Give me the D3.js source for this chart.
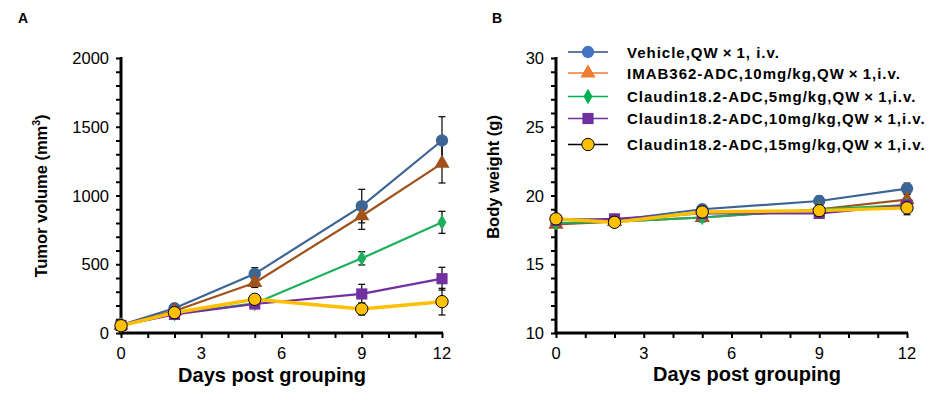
<!DOCTYPE html>
<html><head><meta charset="utf-8">
<script src="https://cdn.jsdelivr.net/npm/d3@7"></script>
<style>body{margin:0;background:#fff;}svg{display:block;font-family:Arial,"Liberation Sans",sans-serif;}</style>
</head><body><svg id="c" width="932" height="397"></svg>
<script>
const days = [0, 2, 5, 9, 12];
const seriesNames = ["Vehicle,QW\u2009\u00d7\u20091, i.v.", "IMAB362-ADC,10mg/kg,QW\u2009\u00d7\u20091,i.v.", "Claudin18.2-ADC,5mg/kg,QW\u2009\u00d7\u20091,i.v.", "Claudin18.2-ADC,10mg/kg,QW\u2009\u00d7\u20091,i.v.", "Claudin18.2-ADC,15mg/kg,QW\u2009\u00d7\u20091,i.v."];
const markerShapes = ["circle", "triangle", "diamond", "square", "circle"];
const plotColors = ["#3C6494", "#A0521A", "#1DB05C", "#7030A0", "#FFC000"];
const legendMarkerColors = ["#4472C4", "#ED7D31", "#00B050", "#7030A0", "#FFC000"];
const legendLineColors = ["#2F4E7A", "#ED7D31", "#00B050", "#7030A0", "#000000"];
// Tumor volume (mm3)
const tumorMean = [
  [58, 180, 430, 923, 1400],
  [55, 160, 366, 851, 1234],
  [55, 140, 215, 543, 805],
  [55, 135, 211, 284, 395],
  [53, 148, 245, 175, 228]
];
const tumorSem = [
  [8, 20, 45, 122, 173],
  [8, 18, 35, 97, 143],
  [8, 15, 25, 48, 80],
  [8, 15, 20, 70, 83],
  [8, 15, 20, 44, 97]
];
// Body weight (g)
const weightMean = [
  [18.3, 18.2, 19.0, 19.6, 20.5],
  [17.9, 18.1, 18.4, 19.0, 19.7],
  [18.0, 18.1, 18.4, 19.0, 19.3],
  [18.2, 18.3, 18.7, 18.7, 19.3],
  [18.3, 18.05, 18.8, 18.9, 19.1]
];
const weightSem = [
  [0.2, 0.3, 0.2, 0.35, 0.4],
  [0.2, 0.3, 0.3, 0.3, 0.4],
  [0.2, 0.3, 0.3, 0.3, 0.4],
  [0.2, 0.3, 0.3, 0.3, 0.4],
  [0.2, 0.3, 0.3, 0.3, 0.5]
];
const xTicks = [0, 3, 6, 9, 12];
const tumorTicks = [0, 500, 1000, 1500, 2000];
const weightTicks = [10, 15, 20, 25, 30];

const svg = d3.select("#c");

function symbolFor(shape, size) {
  const t = {circle: d3.symbolCircle, triangle: d3.symbolTriangle, diamond: d3.symbolDiamond, square: d3.symbolSquare}[shape];
  return d3.symbol().type(t).size(size)();
}
const symSize = {circle: 120, triangle: 100, diamond: 70, square: 125};

function panel(opt) {
  const g = svg.append("g");
  const x = d3.scaleLinear().domain([0, 12]).range([opt.x0, opt.x1]);
  const y = d3.scaleLinear().domain(opt.yDomain).range([opt.y0, opt.y1]);
  const yMinor = d3.range(opt.yDomain[0], opt.yDomain[1] + 1e-9, opt.yMinorStep);
  const xMinor = d3.range(0, 13, 1);
  const ax = g.append("g").attr("transform", `translate(0,${opt.y0})`)
    .call(d3.axisBottom(x).tickValues(xMinor).tickSize(5).tickFormat(""));
  ax.select(".domain").remove();
  ax.selectAll("line").attr("stroke", "#000").attr("stroke-width", 2);
  const ay = g.append("g").attr("transform", `translate(${opt.x0},0)`)
    .call(d3.axisLeft(y).tickValues(yMinor).tickSize(5).tickFormat(""));
  ay.select(".domain").remove();
  ay.selectAll("line").attr("stroke", "#000").attr("stroke-width", 2);
  g.selectAll(".xl").data(xTicks).join("text")
    .attr("x", d => x(d)).attr("y", opt.y0 + 26).attr("text-anchor", "middle")
    .attr("font-size", 16.5).attr("fill", "#000").text(d => d);
  g.selectAll(".yl").data(opt.yTicks).join("text")
    .attr("x", opt.x0 - 12).attr("y", d => y(d) + 6).attr("text-anchor", "end")
    .attr("font-size", 16.5).attr("fill", "#000").text(d => d);
  g.append("line").attr("x1", opt.x0).attr("x2", opt.x0).attr("y1", opt.y1 - 1).attr("y2", opt.y0 + 1.5)
    .attr("stroke", "#000").attr("stroke-width", 3);
  g.append("line").attr("x1", opt.x0 - 1.5).attr("x2", opt.x1 + 1).attr("y1", opt.y0).attr("y2", opt.y0)
    .attr("stroke", "#000").attr("stroke-width", 3);
  opt.mean.forEach((s, i) => {
    s.forEach((v, j) => {
      const e = opt.sem[i][j];
      const xx = x(days[j]);
      const eg = g.append("g").attr("stroke", "#000").attr("stroke-width", 1.2);
      eg.append("line").attr("x1", xx).attr("x2", xx).attr("y1", y(v - e)).attr("y2", y(v + e));
      eg.append("line").attr("x1", xx - 3.5).attr("x2", xx + 3.5).attr("y1", y(v - e)).attr("y2", y(v - e));
      eg.append("line").attr("x1", xx - 3.5).attr("x2", xx + 3.5).attr("y1", y(v + e)).attr("y2", y(v + e));
    });
  });
  const line = d3.line().x((d, j) => x(days[j])).y(d => y(d));
  opt.mean.forEach((s, i) => {
    g.append("path").attr("d", line(s)).attr("fill", "none").attr("stroke", plotColors[i])
      .attr("stroke-width", i === 4 ? 3.5 : 2.2);
    s.forEach((v, j) => {
      g.append("path").attr("d", symbolFor(markerShapes[i], symSize[markerShapes[i]]))
        .attr("transform", `translate(${x(days[j])},${y(v)})`)
        .attr("fill", plotColors[i])
        .attr("stroke", i === 4 ? "#000" : "none").attr("stroke-width", 1);
    });
  });
  g.append("text").attr("x", opt.titleX).attr("y", opt.titleY).attr("text-anchor", "middle")
    .attr("font-size", 20).attr("font-weight", "bold").attr("fill", "#000").text("Days post grouping");
  return {g, x, y};
}

const A = panel({x0: 121, x1: 442, y0: 333, y1: 58, yDomain: [0, 2000], yMinorStep: 100,
  yTicks: tumorTicks, mean: tumorMean, sem: tumorSem, titleX: 272, titleY: 382});
const at = A.g.append("text").attr("transform", "translate(47,196) rotate(-90)").attr("text-anchor", "middle")
  .attr("font-size", 16.5).attr("font-weight", "bold").attr("fill", "#000");
at.append("tspan").text("Tumor volume (mm");
at.append("tspan").attr("font-size", 10.5).attr("dy", -7).text("3");
at.append("tspan").attr("dy", 7).text(")");

const B = panel({x0: 556, x1: 907, y0: 333, y1: 58, yDomain: [10, 30], yMinorStep: 1,
  yTicks: weightTicks, mean: weightMean, sem: weightSem, titleX: 747, titleY: 381});
B.g.append("text").attr("transform", "translate(499,177) rotate(-90)").attr("text-anchor", "middle")
  .attr("font-size", 16.5).attr("font-weight", "bold").attr("fill", "#000").text("Body weight (g)");

svg.append("text").attr("x", 18).attr("y", 23).attr("font-size", 14).attr("font-weight", "bold").text("A");
svg.append("text").attr("x", 492).attr("y", 23).attr("font-size", 14).attr("font-weight", "bold").text("B");

const legendY = [52, 73, 96.5, 118.5, 144.5];
const lg = svg.append("g");
seriesNames.forEach((n, i) => {
  const yy = legendY[i];
  lg.append("line").attr("x1", 568).attr("x2", 608).attr("y1", yy).attr("y2", yy)
    .attr("stroke", legendLineColors[i]).attr("stroke-width", 1.3);
  lg.append("path").attr("d", symbolFor(markerShapes[i], symSize[markerShapes[i]]))
    .attr("transform", `translate(588,${yy})`).attr("fill", legendMarkerColors[i])
    .attr("stroke", i === 4 ? "#000" : "none").attr("stroke-width", 1);
  lg.append("text").attr("x", 627).attr("y", yy + 5.5).attr("font-size", 15).attr("font-weight", "bold")
    .attr("letter-spacing", 1).attr("fill", "#000").text(n);
});
</script></body></html>
